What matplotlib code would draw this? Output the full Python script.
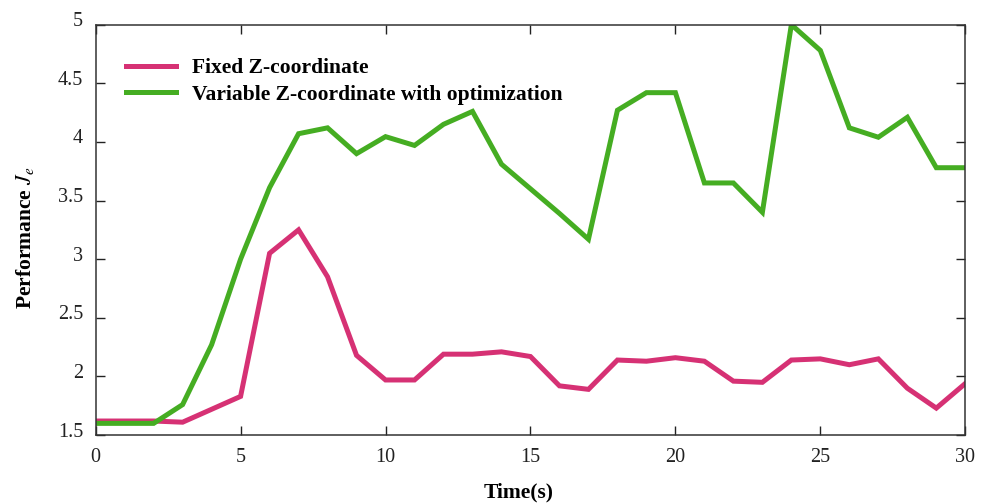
import numpy as np
import matplotlib
matplotlib.use("Agg")
import matplotlib.pyplot as plt
from matplotlib.transforms import ScaledTranslation

# data
time_s = list(range(0, 31))
fixed_z = [1.62, 1.62, 1.62, 1.61, 1.72, 1.83, 3.05, 3.25, 2.85, 2.18,
           1.97, 1.97, 2.19, 2.19, 2.21, 2.17, 1.92, 1.89, 2.14, 2.13,
           2.16, 2.13, 1.96, 1.95, 2.14, 2.15, 2.10, 2.15, 1.90, 1.73,
           1.94]
variable_z = [1.60, 1.60, 1.60, 1.76, 2.27, 3.00, 3.61, 4.07, 4.12, 3.90,
              4.045, 3.97, 4.15, 4.26, 3.81, 3.60, 3.39, 3.17, 4.27, 4.42,
              4.42, 3.65, 3.65, 3.40, 5.00, 4.78, 4.12, 4.04, 4.21, 3.78,
              3.78]
series_names = ["Fixed Z-coordinate", "Variable Z-coordinate with optimization"]
x_ticks = [0, 5, 10, 15, 20, 25, 30]
y_ticks = [1.5, 2, 2.5, 3, 3.5, 4, 4.5, 5]

plt.rcParams['font.family'] = ['Liberation Serif', 'DejaVu Serif']
plt.rcParams['mathtext.fontset'] = 'stix'

fig = plt.figure(figsize=(9.86, 5.03), dpi=100)
ax = fig.add_axes([0.097, 0.135, 0.882, 0.816])

ax.plot(time_s, fixed_z, color='#d63174', linewidth=3.6, label=series_names[0],
        solid_joinstyle='miter')
ax.plot(time_s, variable_z, color='#45ad22', linewidth=3.6, label=series_names[1],
        solid_joinstyle='miter')

ax.set_xlim(0, 30)
ax.set_ylim(1.5, 5)
ax.set_xticks(x_ticks)
ax.set_yticks(y_ticks)
ax.set_yticklabels([f"{v:g}" for v in y_ticks])

ax.tick_params(direction='in', length=6.5, width=1, labelsize=14.5, pad=9,
               top=True, right=True, colors='#222222')
for sp in ax.spines.values():
    sp.set_linewidth(1.1)
    sp.set_color('#333333')

# nudge y tick labels up a little like the reference
for lab in ax.get_yticklabels():
    lab.set_transform(lab.get_transform() + ScaledTranslation(0, 4 / 72, fig.dpi_scale_trans))

ax.set_xlabel("Time(s)", fontsize=15.5, fontweight='bold', labelpad=11)
ax.xaxis.set_label_coords(0.486, -0.115)
ax.set_ylabel(r"Performance $J_e$", fontsize=15.5, fontweight='bold', labelpad=16)
ax.yaxis.label.set_y(0.48)

ax.legend(loc='upper left', bbox_to_anchor=(0.013, 0.965), frameon=False,
          prop={'weight': 'bold', 'size': 15.5}, handlelength=2.3,
          handletextpad=0.75, labelspacing=0.3)

fig.savefig("out.png", dpi=100)
